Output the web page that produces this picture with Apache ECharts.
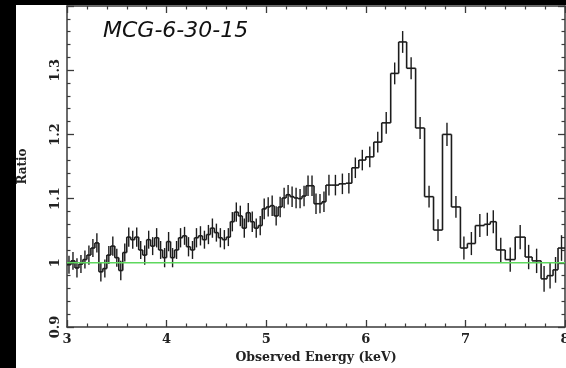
<!DOCTYPE html>
<html>
<head>
<meta charset="utf-8">
<script src="https://cdn.jsdelivr.net/npm/echarts@6/dist/echarts.min.js"></script>
<style>
  html, body { margin: 0; padding: 0; background: #fff; }
  #c { width: 566px; height: 368px; }
</style>
</head>
<body>
<div id="c"></div>
<script>
// Energy bin edges (keV) of the spectrum
const binEdges = [
  3.00, 3.04, 3.08, 3.12, 3.16, 3.20, 3.24, 3.28, 3.32, 3.36, 3.40, 3.44, 3.48, 3.52, 3.56, 3.60,
  3.64, 3.68, 3.72, 3.76, 3.80, 3.84, 3.88, 3.92, 3.96, 4.00, 4.04, 4.08, 4.12, 4.16, 4.20, 4.24,
  4.28, 4.32, 4.36, 4.40, 4.44, 4.48, 4.52, 4.56, 4.60, 4.64, 4.68, 4.72, 4.76, 4.80, 4.84, 4.88,
  4.92, 4.96, 5.00, 5.04, 5.08, 5.12, 5.16, 5.20, 5.24, 5.28, 5.32, 5.36, 5.40, 5.44, 5.48, 5.52,
  5.56, 5.60, 5.66, 5.73, 5.80, 5.86, 5.93, 6.00, 6.08, 6.16, 6.25, 6.33, 6.41, 6.50, 6.59, 6.68,
  6.77, 6.86, 6.95, 7.02, 7.10, 7.19, 7.25, 7.31, 7.40, 7.50, 7.60, 7.67, 7.76, 7.82, 7.88, 7.93,
  8.00
];

// Data / model ratio in each bin
const ratio = [
  0.997, 1.003, 0.992, 0.998, 1.005, 1.012, 1.023, 1.031, 0.986, 0.991, 1.012, 1.026, 1.008, 0.988, 1.016, 1.040,
  1.036, 1.040, 1.020, 1.012, 1.036, 1.026, 1.039, 1.020, 1.008,
  1.033, 1.008, 1.020, 1.039, 1.042, 1.025, 1.020, 1.039, 1.042, 1.036, 1.044, 1.054, 1.047, 1.039, 1.036, 1.040,
  1.064, 1.079, 1.073, 1.054, 1.078, 1.064, 1.054, 1.058, 1.084,
  1.087, 1.089, 1.073, 1.087, 1.101, 1.106, 1.103, 1.101, 1.100, 1.104, 1.120, 1.120, 1.092, 1.092, 1.095,
  1.121, 1.121, 1.123, 1.124,
  1.148, 1.160, 1.165, 1.188, 1.218, 1.295, 1.344, 1.303, 1.210, 1.103, 1.051, 1.200, 1.087, 1.023, 1.030, 1.058,
  1.060, 1.064, 1.020, 1.005, 1.040, 1.009, 1.003, 0.975, 0.980, 0.989, 1.023
];

// One-sigma uncertainty of each ratio
const ratioErr = [
  0.014, 0.014, 0.015, 0.014, 0.014, 0.015, 0.014, 0.015, 0.015, 0.014, 0.014, 0.015, 0.014, 0.015, 0.014, 0.015,
  0.014, 0.015, 0.014, 0.015, 0.014, 0.014, 0.015, 0.014, 0.015,
  0.015, 0.015, 0.014, 0.015, 0.014, 0.015, 0.014, 0.015, 0.015, 0.014, 0.015, 0.015, 0.014, 0.015, 0.015, 0.014,
  0.015, 0.015, 0.016, 0.015, 0.015, 0.016, 0.015, 0.015, 0.016,
  0.015, 0.016, 0.015, 0.016, 0.016, 0.015, 0.016, 0.016, 0.015, 0.016, 0.016, 0.016, 0.016, 0.015, 0.016,
  0.016, 0.016, 0.016, 0.016,
  0.016, 0.016, 0.016, 0.016, 0.017, 0.017, 0.017, 0.017, 0.017, 0.017, 0.017, 0.018, 0.017, 0.018, 0.018, 0.018,
  0.018, 0.018, 0.019, 0.019, 0.019, 0.019, 0.019, 0.020, 0.020, 0.020, 0.020
];

// Continuum model level (ratio = 1)
const modelLevel = 1;

const xMin = 3, xMax = 8, xStep = 1;
const yMin = 0.9, yMax = 1.4, yStep = 0.1;

const bins = ratio.map((r, i) => [binEdges[i], binEdges[i + 1], r, ratioErr[i]]);

const ink = '#1c1c1c';
const axisInk = '#3a3a3a';
const labelFont = { fontFamily: 'DejaVu Serif', fontWeight: 'bold', fontSize: 12, color: '#222' };

const frameAxis = (extra) => Object.assign({
  type: 'value',
  axisLine: { show: true, lineStyle: { color: axisInk, width: 1.5 } },
  axisTick: { show: true, inside: true, length: 7, lineStyle: { color: axisInk, width: 1.3 } },
  minorTick: { show: true, splitNumber: 5, length: 3.5, lineStyle: { color: axisInk, width: 1.2 } },
  splitLine: { show: false },
  minorSplitLine: { show: false }
}, extra);

const chart = echarts.init(document.getElementById('c'), null, { renderer: 'canvas' });

chart.setOption({
  animation: false,
  backgroundColor: '#fff',
  grid: { left: 67, top: 6, width: 498, height: 321, outerBoundsMode: 'none', containLabel: false },
  xAxis: [
    frameAxis({
      min: xMin, max: xMax, interval: xStep, position: 'bottom',
      axisLabel: Object.assign({ margin: 6 }, labelFont, { fontSize: 13 }),
      name: 'Observed Energy (keV)', nameLocation: 'middle', nameGap: 24,
      nameTextStyle: Object.assign({}, labelFont, { fontSize: 12.5 })
    }),
    frameAxis({ min: xMin, max: xMax, interval: xStep, position: 'top', axisLabel: { show: false } })
  ],
  yAxis: [
    frameAxis({
      min: yMin, max: yMax, interval: yStep, position: 'left',
      axisLabel: Object.assign({ margin: 5, rotate: 90, showMaxLabel: false }, labelFont, { fontSize: 13 }),
      name: 'Ratio', nameLocation: 'middle', nameGap: 38, nameRotate: 90,
      nameTextStyle: Object.assign({}, labelFont, { fontSize: 12 })
    }),
    frameAxis({ min: yMin, max: yMax, interval: yStep, position: 'right', axisLabel: { show: false } })
  ],
  graphic: [
    { type: 'rect', left: 0, top: 0, z: 100, shape: { width: 16, height: 368 }, style: { fill: '#000' } },
    { type: 'rect', left: 0, top: 0, z: 100, shape: { width: 566, height: 5 }, style: { fill: '#000' } },
    {
      type: 'text', left: 103, top: 20, z: 100,
      style: { text: 'MCG-6-30-15', font: 'italic 22px "DejaVu Sans"', fill: '#111' }
    }
  ],
  series: [
    {
      type: 'custom',
      name: 'ratio',
      clip: true,
      z: 3,
      data: bins,
      encode: { x: [0, 1], y: 2 },
      renderItem: (params, api) => {
        const i = params.dataIndex;
        const lo = api.value(0), hi = api.value(1), v = api.value(2), e = api.value(3);
        const a = api.coord([lo, v]);
        const b = api.coord([hi, v]);
        const mid = (lo + hi) / 2;
        const t = api.coord([mid, v + e]);
        const d = api.coord([mid, v - e]);
        const st = { stroke: ink, lineWidth: 1.6 };
        const children = [
          { type: 'line', shape: { x1: a[0], y1: a[1], x2: b[0], y2: b[1] }, style: st },
          { type: 'line', shape: { x1: t[0], y1: t[1], x2: d[0], y2: d[1] }, style: { stroke: ink, lineWidth: 1.4 } }
        ];
        if (i > 0) {
          const p = api.coord([lo, ratio[i - 1]]);
          children.push({ type: 'line', shape: { x1: p[0], y1: p[1], x2: a[0], y2: a[1] }, style: st });
        }
        return { type: 'group', children };
      }
    },
    {
      type: 'line',
      name: 'model',
      z: 4,
      symbol: 'none',
      silent: true,
      data: [[xMin, modelLevel], [xMax, modelLevel]],
      lineStyle: { color: '#5ed85e', width: 1.6 }
    }
  ]
});
</script>
</body>
</html>
